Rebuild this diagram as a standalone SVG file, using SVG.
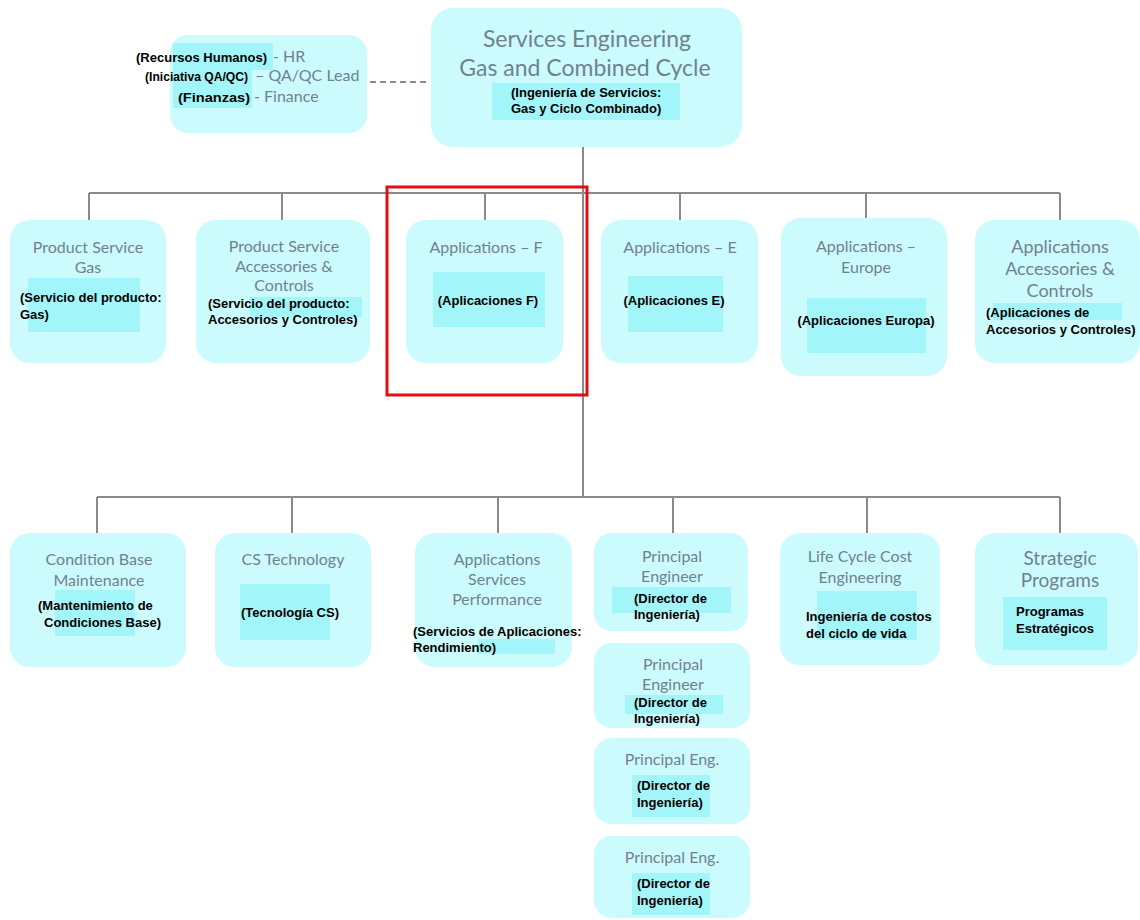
<svg xmlns="http://www.w3.org/2000/svg" width="1140" height="920" viewBox="0 0 1140 920">
  <style>
    .box { fill: #ccfbfd; }
    .hl { fill: #a2f5f9; }
    .t { font-family: Lato, "Open Sans", sans-serif; font-size: 16px; fill: #6f8290; text-anchor: middle; }
    .tl { font-family: Lato, "Open Sans", sans-serif; font-size: 15px; fill: #6f8290; }
    .b { font-family: "Liberation Sans", Arial, sans-serif; font-size: 13px; font-weight: bold; fill: #000; }
    .bc { font-family: "Liberation Sans", Arial, sans-serif; font-size: 13px; font-weight: bold; fill: #000; text-anchor: middle; }
    .be { font-family: "Liberation Sans", Arial, sans-serif; font-size: 13px; font-weight: bold; fill: #000; text-anchor: end; }
    .line { stroke: #8a8a8a; stroke-width: 2; fill: none; }
  </style>
  <rect width="1140" height="920" fill="#ffffff"/>

  <!-- connectors -->
  <g id="connectors">
    <line class="line" x1="370" y1="82" x2="430" y2="82" stroke-dasharray="6,4" stroke-width="1.5"/>
    <line class="line" x1="583" y1="146" x2="583" y2="497"/>
    <line class="line" x1="89" y1="193" x2="1060" y2="193"/>
    <line class="line" x1="89" y1="193" x2="89" y2="221"/>
    <line class="line" x1="282" y1="193" x2="282" y2="221"/>
    <line class="line" x1="485" y1="193" x2="485" y2="221"/>
    <line class="line" x1="680" y1="193" x2="680" y2="221"/>
    <line class="line" x1="866" y1="193" x2="866" y2="219"/>
    <line class="line" x1="1060" y1="193" x2="1060" y2="221"/>
    <line class="line" x1="97" y1="497" x2="1060" y2="497"/>
    <line class="line" x1="97" y1="497" x2="97" y2="534"/>
    <line class="line" x1="292" y1="497" x2="292" y2="534"/>
    <line class="line" x1="498" y1="497" x2="498" y2="534"/>
    <line class="line" x1="673" y1="497" x2="673" y2="534"/>
    <line class="line" x1="867" y1="497" x2="867" y2="534"/>
    <line class="line" x1="1060" y1="497" x2="1060" y2="534"/>
  </g>

  <!-- top node -->
  <g id="services-engineering">
    <rect class="box" x="431" y="8" width="311" height="139" rx="22"/>
    <rect class="hl" x="492" y="83" width="188" height="37"/>
    <text class="t" x="587" y="47" style="font-size:23px">Services Engineering</text>
    <text class="t" x="585" y="76" style="font-size:23px">Gas and Combined Cycle</text>
    <text class="b" x="511" y="97">(Ingeniería de Servicios:</text>
    <text class="b" x="511" y="113">Gas y Ciclo Combinado)</text>
  </g>

  <!-- staff node -->
  <g id="staff">
    <rect class="box" x="170" y="35" width="197" height="98" rx="18"/>
    <rect class="hl" x="173" y="43" width="100" height="27"/>
    <rect class="hl" x="173" y="70" width="79" height="38"/>
    <text class="be" x="267" y="62" textLength="131" lengthAdjust="spacingAndGlyphs">(Recursos Humanos)</text>
    <text class="tl" x="273" y="62" style="font-size:16px">- HR</text>
    <text class="be" x="248" y="81" textLength="103" lengthAdjust="spacingAndGlyphs">(Iniciativa QA/QC)</text>
    <text class="tl" x="255" y="81" style="font-size:16px">– QA/QC Lead</text>
    <text class="be" x="250" y="102" textLength="72" lengthAdjust="spacingAndGlyphs">(Finanzas)</text>
    <text class="tl" x="254" y="102" style="font-size:16px">- Finance</text>
  </g>

  <!-- second level -->
  <g id="product-service-gas">
    <rect class="box" x="10" y="220" width="156" height="143" rx="20"/>
    <rect class="hl" x="28" y="278" width="112" height="54"/>
    <text class="t" x="88" y="253">Product Service</text>
    <text class="t" x="88" y="273">Gas</text>
    <text class="b" x="20" y="302">(Servicio del producto:</text>
    <text class="b" x="20" y="319">Gas)</text>
  </g>

  <g id="product-service-accessories">
    <rect class="box" x="196" y="220" width="174" height="143" rx="20"/>
    <rect class="hl" x="250" y="297" width="112" height="20"/>
    <text class="t" x="284" y="252">Product Service</text>
    <text class="t" x="284" y="272">Accessories &amp;</text>
    <text class="t" x="284" y="291">Controls</text>
    <text class="b" x="208" y="308">(Servicio del producto:</text>
    <text class="b" x="208" y="324">Accesorios y Controles)</text>
  </g>

  <g id="applications-f">
    <rect class="box" x="406" y="220" width="157" height="143" rx="20"/>
    <rect class="hl" x="433" y="272" width="112" height="55"/>
    <text class="t" x="486" y="253">Applications – F</text>
    <text class="bc" x="488" y="305">(Aplicaciones F)</text>
  </g>

  <g id="applications-e">
    <rect class="box" x="601" y="220" width="157" height="143" rx="20"/>
    <rect class="hl" x="628" y="276" width="95" height="56"/>
    <text class="t" x="680" y="253">Applications – E</text>
    <text class="bc" x="674" y="305">(Aplicaciones E)</text>
  </g>

  <g id="applications-europe">
    <rect class="box" x="781" y="218" width="166" height="158" rx="20"/>
    <rect class="hl" x="807" y="298" width="119" height="55"/>
    <text class="t" x="866" y="252">Applications –</text>
    <text class="t" x="866" y="273">Europe</text>
    <text class="bc" x="866" y="325">(Aplicaciones Europa)</text>
  </g>

  <g id="applications-accessories">
    <rect class="box" x="975" y="220" width="165" height="143" rx="20"/>
    <rect class="hl" x="993" y="303" width="129" height="17"/>
    <text class="t" x="1060" y="253" style="font-size:18px">Applications</text>
    <text class="t" x="1060" y="275" style="font-size:18px">Accessories &amp;</text>
    <text class="t" x="1060" y="297" style="font-size:18px">Controls</text>
    <text class="b" x="986" y="317">(Aplicaciones de</text>
    <text class="b" x="986" y="334">Accesorios y Controles)</text>
  </g>

  <!-- red frame around Applications – F -->
  <rect x="387" y="187" width="200" height="208" fill="none" stroke="#e01010" stroke-width="3"/>

  <!-- third level -->
  <g id="condition-base-maintenance">
    <rect class="box" x="10" y="533" width="176" height="134" rx="20"/>
    <rect class="hl" x="55" y="590" width="80" height="46"/>
    <text class="t" x="99" y="565">Condition Base</text>
    <text class="t" x="99" y="586">Maintenance</text>
    <text class="b" x="38" y="610">(Mantenimiento de</text>
    <text class="b" x="44" y="627">Condiciones Base)</text>
  </g>

  <g id="cs-technology">
    <rect class="box" x="215" y="533" width="156" height="134" rx="20"/>
    <rect class="hl" x="240" y="584" width="90" height="56"/>
    <text class="t" x="293" y="565">CS Technology</text>
    <text class="bc" x="290" y="617">(Tecnología CS)</text>
  </g>

  <g id="applications-services-performance">
    <rect class="box" x="415" y="533" width="157" height="134" rx="20"/>
    <rect class="hl" x="478" y="639" width="77" height="15"/>
    <text class="t" x="497" y="565">Applications</text>
    <text class="t" x="497" y="585">Services</text>
    <text class="t" x="497" y="605">Performance</text>
    <text class="b" x="413" y="636">(Servicios de Aplicaciones:</text>
    <text class="b" x="413" y="652">Rendimiento)</text>
  </g>

  <g id="principal-engineer-1">
    <rect class="box" x="594" y="533" width="154" height="98" rx="18"/>
    <rect class="hl" x="612" y="587" width="119" height="26"/>
    <text class="t" x="672" y="562">Principal</text>
    <text class="t" x="672" y="582">Engineer</text>
    <text class="b" x="634" y="603">(Director de</text>
    <text class="b" x="634" y="619">Ingeniería)</text>
  </g>

  <g id="principal-engineer-2">
    <rect class="box" x="594" y="643" width="156" height="85" rx="18"/>
    <rect class="hl" x="625" y="695" width="98" height="19"/>
    <text class="t" x="673" y="670">Principal</text>
    <text class="t" x="673" y="690">Engineer</text>
    <text class="b" x="634" y="707">(Director de</text>
    <text class="b" x="634" y="723">Ingeniería)</text>
  </g>

  <g id="principal-eng-3">
    <rect class="box" x="594" y="738" width="156" height="86" rx="18"/>
    <rect class="hl" x="632" y="775" width="78" height="42"/>
    <text class="t" x="672" y="765">Principal Eng.</text>
    <text class="b" x="637" y="790">(Director de</text>
    <text class="b" x="637" y="807">Ingeniería)</text>
  </g>

  <g id="principal-eng-4">
    <rect class="box" x="594" y="836" width="156" height="82" rx="18"/>
    <rect class="hl" x="632" y="873" width="78" height="42"/>
    <text class="t" x="672" y="863">Principal Eng.</text>
    <text class="b" x="637" y="888">(Director de</text>
    <text class="b" x="637" y="905">Ingeniería)</text>
  </g>

  <g id="life-cycle-cost">
    <rect class="box" x="780" y="533" width="160" height="132" rx="20"/>
    <rect class="hl" x="817" y="591" width="100" height="49"/>
    <text class="t" x="860" y="562">Life Cycle Cost</text>
    <text class="t" x="860" y="583">Engineering</text>
    <text class="b" x="806" y="621">Ingeniería de costos</text>
    <text class="b" x="806" y="638">del ciclo de vida</text>
  </g>

  <g id="strategic-programs">
    <rect class="box" x="975" y="533" width="163" height="132" rx="20"/>
    <rect class="hl" x="1003" y="597" width="104" height="53"/>
    <text class="t" x="1060" y="565" style="font-size:19px">Strategic</text>
    <text class="t" x="1060" y="587" style="font-size:19px">Programs</text>
    <text class="b" x="1016" y="616">Programas</text>
    <text class="b" x="1016" y="633">Estratégicos</text>
  </g>
</svg>
